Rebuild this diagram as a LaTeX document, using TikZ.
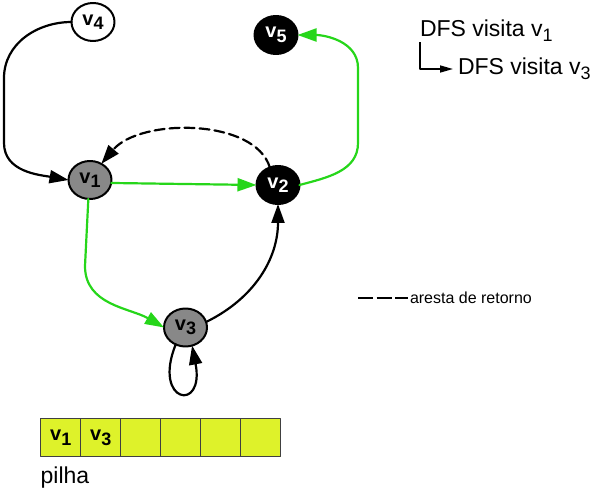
\documentclass[tikz,border=0pt]{standalone}
\usepackage{fontspec}
\setmainfont{Liberation Sans}
\usepackage{tikz}
\usetikzlibrary{arrows.meta,positioning,calc,shapes.geometric}

\definecolor{treegreen}{RGB}{38,214,26}
\definecolor{stackfill}{RGB}{222,242,42}
\definecolor{visitgray}{RGB}{136,136,136}

% vertex name with a low, large index
\newcommand{\vname}[1]{v\raisebox{-4.5pt}{\fontsize{18}{18}\selectfont #1}}

\begin{document}
\begin{tikzpicture}[x=1pt,y=1pt, line cap=round, line join=round,
                    every node/.style={outer sep=0pt}]

  \tikzset{
    vert/.style={ellipse, draw=black, line width=2pt, minimum width=43pt, minimum height=38pt,
                 inner sep=0pt, font=\fontsize{20}{20}\selectfont\bfseries},
    vwhite/.style={vert, fill=white},
    vgray/.style={vert, fill=visitgray},
    vblack/.style={vert, fill=black, text=white},
    edge/.style={line width=2.2pt, draw=black, -{Triangle[length=19pt,width=13pt]}},
    tree/.style={edge, draw=treegreen},
    back/.style={edge, dash pattern=on 10pt off 5pt},
    cell/.style={draw=black!75, line width=0.8pt, fill=stackfill, minimum width=40pt,
                 minimum height=38pt, inner sep=0pt},
    txt/.style={font=\fontsize{23}{23}\selectfont, inner sep=0pt}
  }

  \path[use as bounding box] (0,0) rectangle (600,488);

  % Graph
  \node[vwhite] (v4) at (93,466)      {\vname{4}};
  \node[vblack] (v5) at (276,453)     {\vname{5}};
  \node[vgray]  (v1) at (90,308)      {\vname{1}};
  \node[vblack] (v2) at (278,303)     {\vname{2}};
  \node[vgray]  (v3) at (185.5,160.5) {\vname{3}};

  \draw[tree] (v1.-8) -- (v2.west);
  \draw[tree] (v1.265) -- (85,222) to[out=-90,in=150] (v3.west);
  \draw[tree] (v2.east) to[out=15,in=-90] (358,345) -- (358,420) to[out=90,in=0] (v5.east);

  \draw[edge] (v4.west) to[out=180,in=90] (4,410) -- (4,345) to[out=-90,in=170] (v1.west);
  \draw[edge] (v3.15) .. controls (255,190) and (278,230) .. (v2.south);
  \draw[edge] (v3.240) .. controls (152,85) and (205,75) .. (v3.290);

  \draw[back] (v2.115) .. controls (255,370) and (140,370) .. (v1.55);

  % Call trace
  \node[txt, anchor=base west] (dfsa) at (420,451) {DFS visita \vname{1}};
  \node[txt, anchor=base west] (dfsb) at (458,413) {DFS visita \vname{3}};
  \draw[line width=1.6pt, line cap=butt, -{Triangle[length=13pt,width=7pt]}]
    ([yshift=-1pt]dfsa.south west) |- ([xshift=-5pt]dfsb.west);

  % Legend
  \node[inner sep=0pt, font=\fontsize{16}{16}\selectfont, anchor=base west] (legend) at (410,184) {aresta de retorno};
  \coordinate[left=52pt of legend.west] (legstart);
  \draw[line width=2.2pt, line cap=butt, dash pattern=on 15pt off 3.5pt] (legstart) -- ([xshift=-2pt]legend.west);

  % Stack
  \foreach \i in {0,...,5} \node[cell] (c\i) at (60.7+40*\i,50.2) {};
  \node[inner sep=0pt, font=\fontsize{20}{20}\selectfont\bfseries] (s1) at (c0) {\vname{1}};
  \node[inner sep=0pt, font=\fontsize{20}{20}\selectfont\bfseries] (s2) at (c1) {\vname{3}};
  \node[txt, below right=10pt and 0pt of c0.south west] (pilha) {pilha};
\end{tikzpicture}
\end{document}
